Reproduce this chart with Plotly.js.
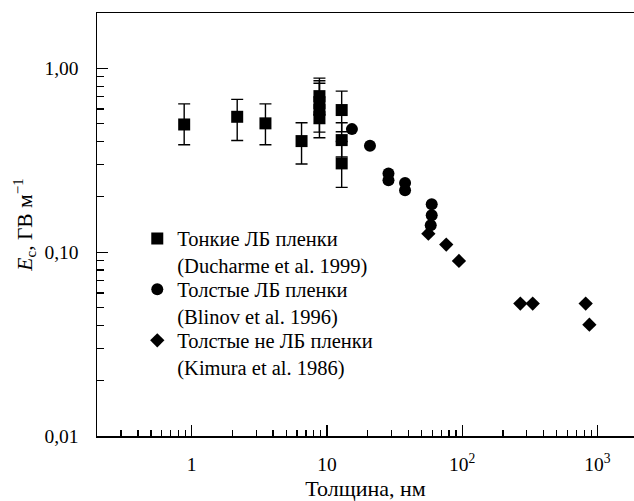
<!DOCTYPE html>
<html>
<head>
<meta charset="utf-8">
<script src="https://cdn.plot.ly/plotly-3.0.1.min.js"></script>
<style>html,body{margin:0;padding:0;background:#fff;overflow:hidden}</style>
</head>
<body>
<div id="chart" style="width:634px;height:501px"></div>
<script>
// Thin LB films (Ducharme et al. 1999)
var thinX     = [0.88, 2.17, 3.51, 6.49, 8.8, 8.8, 8.8, 8.8, 12.85, 12.85, 12.85];
var thinY     = [0.495, 0.545, 0.502, 0.402, 0.706, 0.647, 0.593, 0.543, 0.593, 0.407, 0.304];
var thinUpper = [0.641, 0.678, 0.641, 0.506, 0.885, 0.856, 0.829, 0.70, 0.752, 0.506, 0.40];
var thinLower = [0.384, 0.405, 0.384, 0.302, 0.56, 0.50, 0.419, 0.45, 0.452, 0.33, 0.225];
// Thick LB films (Blinov et al. 1996)
var thickX = [15.3, 20.8, 28.5, 28.5, 37.8, 37.8, 59.5, 59.5, 58.5];
var thickY = [0.467, 0.379, 0.268, 0.246, 0.238, 0.217, 0.182, 0.159, 0.140];
// Thick non-LB films (Kimura et al. 1986)
var nonX = [56.2, 76.2, 94.6, 269, 332, 818, 871];
var nonY = [0.126, 0.110, 0.0896, 0.0525, 0.0525, 0.0525, 0.0403];

var seriesNames = [
  'Тонкие ЛБ пленки<br>(Ducharme et al. 1999)',
  'Толстые ЛБ пленки<br>(Blinov et al. 1996)',
  'Толстые не ЛБ пленки<br>(Kimura et al. 1986)'
];
var xTickVals = [1, 10, 100, 1000];
var xTickText = ['1', '10', '10<sup>2</sup>', '10<sup>3</sup>'];
var yTickVals = [0.01, 0.1, 1];
var yTickText = ['0,01', '0,10', '1,00'];

var errPlus = thinY.map(function(v, i){ return thinUpper[i] - v; });
var errMinus = thinY.map(function(v, i){ return v - thinLower[i]; });

var FONT = '"Liberation Serif", "Times New Roman", serif';

var traces = [
  {x: thinX, y: thinY, type: 'scatter', mode: 'markers', name: seriesNames[0], legend: 'legend',
   marker: {symbol: 'square', size: 12, color: '#000'},
   error_y: {type: 'data', symmetric: false, array: errPlus, arrayminus: errMinus,
             color: '#000', thickness: 1.4, width: 6}},
  {x: thickX, y: thickY, type: 'scatter', mode: 'markers', name: seriesNames[1], legend: 'legend2',
   marker: {symbol: 'circle', size: 12, color: '#000'}},
  {x: nonX, y: nonY, type: 'scatter', mode: 'markers', name: seriesNames[2], legend: 'legend3',
   marker: {symbol: 'diamond', size: 11, color: '#000'}}
];

function leg(y) {
  return {xref: 'paper', yref: 'paper', x: 0.075, y: y,
          xanchor: 'left', yanchor: 'top', valign: 'top',
          bgcolor: 'rgba(0,0,0,0)', font: {family: FONT, size: 20.5, color: '#000'}};
}

var layout = {
  width: 634, height: 501,
  margin: {l: 97, r: 0, t: 13, b: 65, pad: 0, autoexpand: false},
  paper_bgcolor: '#fff', plot_bgcolor: '#fff',
  font: {family: FONT, size: 19, color: '#000'},
  showlegend: true,
  legend: leg(0.514),
  legend2: leg(0.394),
  legend3: leg(0.273),
  xaxis: {
    type: 'log', range: [-0.70, 3.27],
    showline: true, linecolor: '#000', linewidth: 1.5, mirror: true,
    showgrid: false, zeroline: false,
    tickmode: 'array', tickvals: xTickVals, ticktext: xTickText,
    ticks: 'inside', ticklen: 11, tickwidth: 1.3, tickcolor: '#000',
    ticklabelstandoff: 10,
    minor: {dtick: 'D1', ticks: 'inside', ticklen: 6, tickwidth: 1.3, tickcolor: '#000', showgrid: false},
    tickfont: {family: FONT, size: 19.5, color: '#000'},
    title: {text: 'Толщина, нм', font: {family: FONT, size: 22, color: '#000'}, standoff: 8}
  },
  yaxis: {
    type: 'log', range: [-2, 0.301],
    showline: true, linecolor: '#000', linewidth: 1.5, mirror: false,
    showgrid: false, zeroline: false,
    tickmode: 'array', tickvals: yTickVals, ticktext: yTickText,
    ticks: 'inside', ticklen: 11, tickwidth: 1.3, tickcolor: '#000',
    ticklabelstandoff: 13,
    minor: {dtick: 'D1', ticks: 'inside', ticklen: 7, tickwidth: 1.3, tickcolor: '#000', showgrid: false},
    tickfont: {family: FONT, size: 19.5, color: '#000'},
    title: {text: '<i>E</i><sub>c</sub>, ГВ м<sup>−1</sup>', font: {family: FONT, size: 21.5, color: '#000'}, standoff: 6}
  }
};

Plotly.newPlot('chart', traces, layout, {displayModeBar: false, staticPlot: true});
</script>
</body>
</html>
